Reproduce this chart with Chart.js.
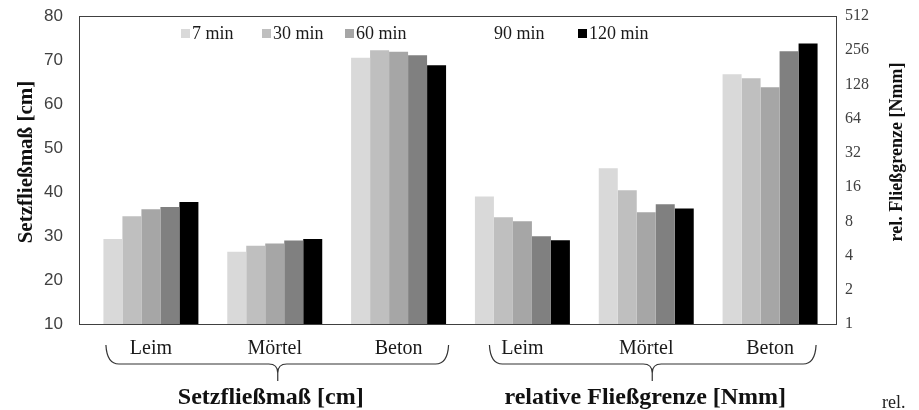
<!DOCTYPE html>
<html lang="de">
<head>
    <meta charset="UTF-8">
    <title>Setzfließmaß und relative Fließgrenze</title>
    <style>
        body { margin: 0; background: #ffffff; }
        #wrap { width: 919px; height: 410px; position: relative; }
    </style>
</head>
<body>
<div id="wrap"><canvas id="chart"></canvas></div>

<script src="https://cdn.jsdelivr.net/npm/chart.js"></script>
<script>
    // categories: first three on the left axis, last three on the right axis
    const categories = ['Leim', 'Mörtel', 'Beton', 'Leim', 'Mörtel', 'Beton'];
    const series = ['7 min', '30 min', '60 min', '90 min', '120 min'];

    // Setzfließmaß [cm] (Leim, Mörtel, Beton)
    const setz7   = [29.3, 26.4, 70.5];
    const setz30  = [34.5, 27.8, 72.2];
    const setz60  = [36.1, 28.3, 71.9];
    const setz90  = [36.6, 29.0, 71.1];
    const setz120 = [37.7, 29.3, 68.8];

    // relative Fließgrenze [Nmm] (Leim, Mörtel, Beton), log2 axis
    const fliess7   = [13.2, 23.5, 157];
    const fliess30  = [8.7, 15.0, 145];
    const fliess60  = [8.0, 9.6, 121];
    const fliess90  = [5.9, 11.3, 251];
    const fliess120 = [5.45, 10.4, 294];

    const ticksLeft = [10, 20, 30, 40, 50, 60, 70, 80];
    const ticksRight = [1, 2, 4, 8, 16, 32, 64, 128, 256, 512];

    const groupTitles = ['Setzfließmaß [cm]', 'relative Fließgrenze [Nmm]'];
    const titleLeft = 'Setzfließmaß [cm]';
    const titleRight = 'rel. Fließgrenze [Nmm]';

    const colors = ['#d9d9d9', '#bfbfbf', '#a6a6a6', '#808080', '#000000'];
    const legendSwatch = ['#d9d9d9', '#bfbfbf', '#a6a6a6', '#ffffff', '#000000'];
    const legendX = [181, 262, 345, 483, 578];

    const SERIF = "'Liberation Serif', 'Times New Roman', serif";
    const SANS = "'Liberation Sans', Arial, sans-serif";

    const setz = [setz7, setz30, setz60, setz90, setz120];
    const fliess = [fliess7, fliess30, fliess60, fliess90, fliess120];

    const datasets = [];
    series.forEach((s, i) => {
        datasets.push({
            label: s, yAxisID: 'yL', backgroundColor: colors[i],
            data: setz[i].concat([null, null, null])
        });
    });
    series.forEach((s, i) => {
        datasets.push({
            label: s, yAxisID: 'yR', backgroundColor: colors[i],
            data: [null, null, null].concat(fliess[i])
        });
    });

    // keep tick padding from pushing the plot area around
    function noPad(s) {
        s.paddingTop = 0; s.paddingBottom = 0; s.paddingLeft = 0; s.paddingRight = 0;
    }

    // frame, legend, braces, titles
    const extras = {
        id: 'extras',
        afterDraw(chart) {
            const c = chart.ctx;
            const a = chart.chartArea;
            const x = chart.scales.x;
            c.save();

            // frame around plot
            c.strokeStyle = '#404040';
            c.lineWidth = 1;
            c.strokeRect(a.left - 9.5, a.top + 0.5, (a.right + 4) - (a.left - 10), a.bottom - a.top);

            // legend
            c.font = '18px ' + SERIF;
            c.textBaseline = 'middle';
            c.textAlign = 'left';
            series.forEach((s, i) => {
                c.fillStyle = legendSwatch[i];
                c.fillRect(legendX[i], 29, 9, 9);
                c.fillStyle = '#1a1a1a';
                c.fillText(s, legendX[i] + 11, 34);
            });

            // braces under the two groups
            c.strokeStyle = '#333333';
            c.lineWidth = 1.2;
            const groups = [[0, 2, 1, -45, 50, 3], [3, 5, 4, -33, 46, 6]];
            groups.forEach((g, k) => {
                const x0 = x.getPixelForValue(g[0]) + g[3];
                const x1 = x.getPixelForValue(g[1]) + g[4];
                const tip = x.getPixelForValue(g[2]) + g[5];
                const yt = 345, yh = 364, yp = 373, ye = 381;
                c.beginPath();
                c.moveTo(x0, yt);
                c.quadraticCurveTo(x0 + 1, yh, x0 + 13, yh);
                c.lineTo(tip - 9, yh);
                c.quadraticCurveTo(tip, yh, tip, yp);
                c.moveTo(x1, yt);
                c.quadraticCurveTo(x1 - 1, yh, x1 - 13, yh);
                c.lineTo(tip + 9, yh);
                c.quadraticCurveTo(tip, yh, tip, yp);
                c.lineTo(tip, ye);
                c.stroke();

                c.fillStyle = '#111111';
                c.font = 'bold 24px ' + SERIF;
                c.textAlign = 'center';
                c.fillText(groupTitles[k], tip - 7, 398);
            });

            // axis titles, both read bottom to top
            c.fillStyle = '#111111';
            c.textAlign = 'center';
            c.save();
            c.font = 'bold 21px ' + SERIF;
            c.translate(27, 162);
            c.rotate(-Math.PI / 2);
            c.fillText(titleLeft, 0, 0);
            c.restore();
            c.save();
            c.font = 'bold 18px ' + SERIF;
            c.translate(897, 152);
            c.rotate(-Math.PI / 2);
            c.fillText(titleRight, 0, 0);
            c.restore();

            // cut-off text at the bottom right
            c.font = '18px ' + SERIF;
            c.textAlign = 'left';
            c.fillStyle = '#222222';
            c.fillText('rel.', 882, 403);

            c.restore();
        }
    };

    new Chart(document.getElementById('chart'), {
        type: 'bar',
        data: { labels: categories, datasets: datasets },
        options: {
            responsive: true,
            maintainAspectRatio: false,
            animation: false,
            layout: { padding: { top: 16, left: 0, right: 0, bottom: 0 } },
            datasets: {
                bar: { categoryPercentage: 0.767, barPercentage: 1.0, skipNull: true, borderWidth: 0 }
            },
            plugins: {
                legend: { display: false },
                tooltip: { enabled: false }
            },
            scales: {
                x: {
                    grid: { display: false, drawTicks: false },
                    border: { display: false },
                    ticks: { color: '#1a1a1a', font: { family: SERIF, size: 20 }, padding: 13, maxRotation: 0 },
                    afterFit: s => { s.height = 86; noPad(s); }
                },
                yL: {
                    type: 'linear',
                    position: 'left',
                    min: 10,
                    max: 80,
                    grid: { display: false, drawTicks: false },
                    border: { display: false },
                    ticks: { color: '#404040', font: { family: SANS, size: 17 }, padding: 26 },
                    afterBuildTicks: s => { s.ticks = ticksLeft.map(v => ({ value: v })); },
                    afterFit: s => { s.width = 89; noPad(s); }
                },
                yR: {
                    type: 'logarithmic',
                    position: 'right',
                    min: 1,
                    max: 512,
                    grid: { display: false, drawTicks: false },
                    border: { display: false },
                    ticks: { color: '#404040', font: { family: SERIF, size: 16 }, padding: 13, callback: v => String(v) },
                    afterBuildTicks: s => { s.ticks = ticksRight.map(v => ({ value: v })); },
                    afterFit: s => { s.width = 87; noPad(s); }
                }
            }
        },
        plugins: [extras]
    });
</script>
</body>
</html>
